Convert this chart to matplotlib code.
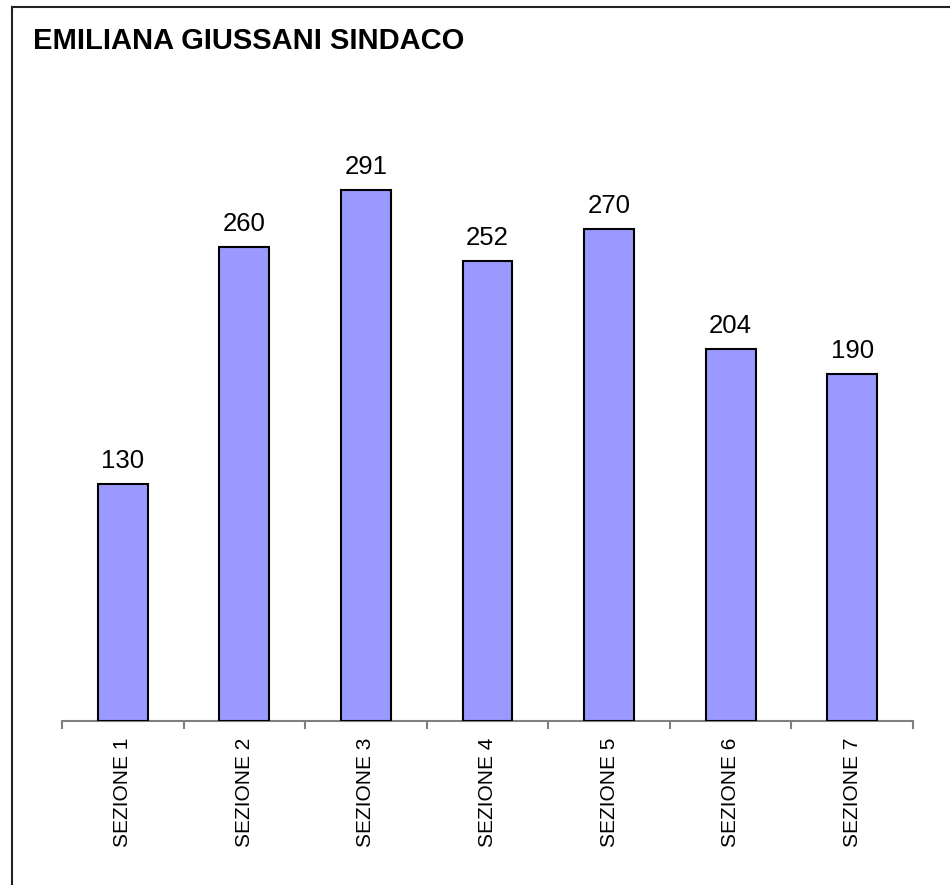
import matplotlib.pyplot as plt
from matplotlib.lines import Line2D

sections = ['SEZIONE 1', 'SEZIONE 2', 'SEZIONE 3', 'SEZIONE 4', 'SEZIONE 5', 'SEZIONE 6', 'SEZIONE 7']
votes = [130, 260, 291, 252, 270, 204, 190]

plt.rcParams['font.family'] = ['Liberation Sans', 'DejaVu Sans']

W, H = 950, 885
fig = plt.figure(figsize=(W / 100, H / 100), dpi=100)
ax = fig.add_axes([62 / W, 1 - 721 / H, (913 - 62) / W, (721 - 130) / H])

xs = range(len(sections))
ax.bar(xs, votes, width=0.41, color='#9999FF', edgecolor='black', linewidth=1.5, zorder=3)

for x, v in zip(xs, votes):
    ax.annotate(str(v), (x, v), xytext=(0, 11.5), textcoords='offset points',
                ha='center', va='baseline', fontsize=18.5)

ax.set_xlim(-0.5, len(sections) - 0.5)
ax.set_ylim(0, 324)

for side in ['top', 'right', 'left']:
    ax.spines[side].set_visible(False)
ax.spines['bottom'].set_color('#808080')
ax.spines['bottom'].set_linewidth(1.5)
ax.set_yticks([])

ax.set_xticks(list(xs))
ax.set_xticklabels(sections, rotation=90, fontsize=15)
ax.tick_params(axis='x', which='major', length=0, pad=12)
ax.set_xticks([i - 0.5 for i in range(len(sections) + 1)], minor=True)
ax.tick_params(axis='x', which='minor', length=6, width=1.5, color='#808080')

fig.text(33 / W, 1 - 49 / H, 'EMILIANA GIUSSANI SINDACO', fontsize=21, fontweight='bold',
         ha='left', va='baseline')

# outer frame (left and top edges)
fig.add_artist(Line2D([12 / W, 12 / W], [0, 1 - 7 / H], color='#222222', linewidth=1.5))
fig.add_artist(Line2D([12 / W, 1], [1 - 7 / H, 1 - 7 / H], color='#222222', linewidth=1.5))

fig.savefig('out.png', dpi=100)
